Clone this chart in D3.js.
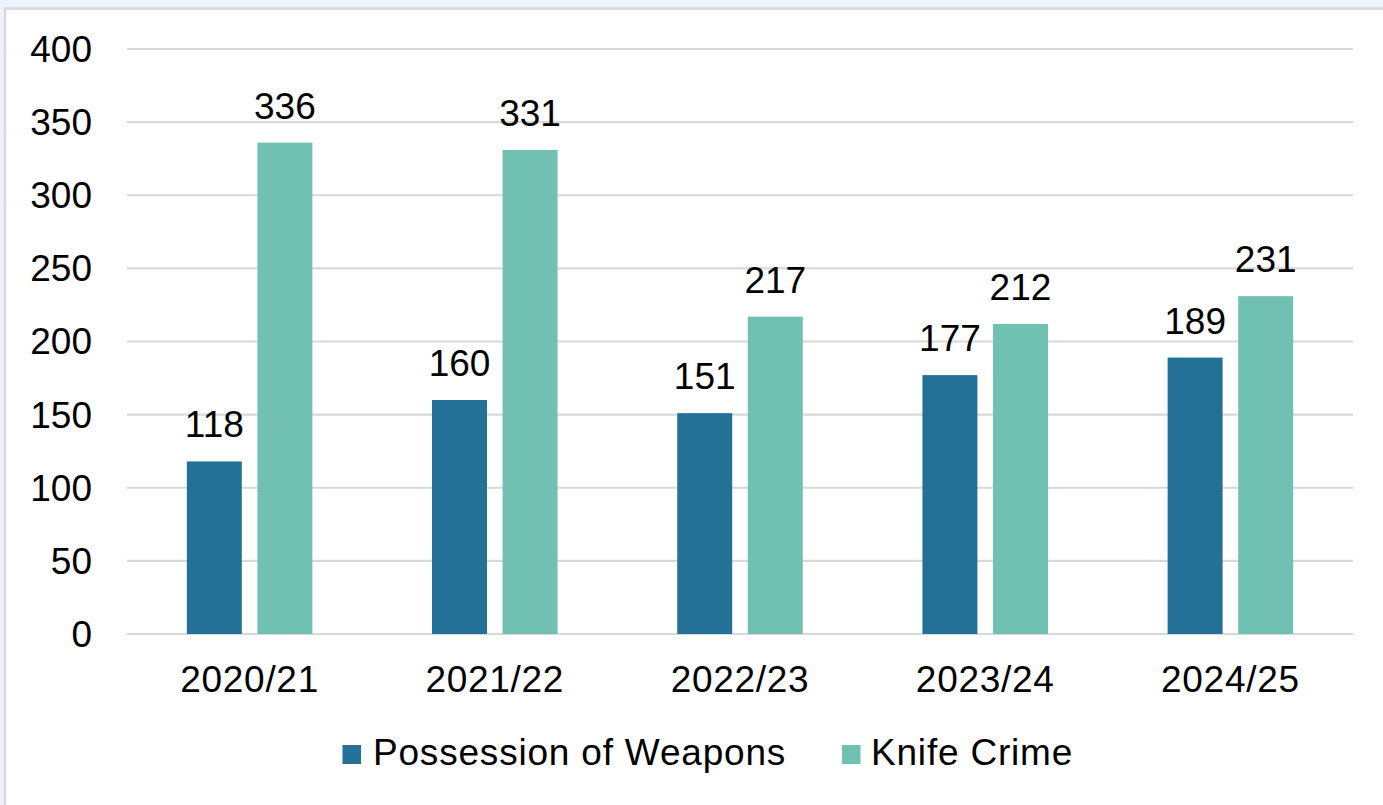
<!DOCTYPE html>
<html>
<head>
<meta charset="utf-8">
<script src="https://cdn.jsdelivr.net/npm/d3@7"></script>
<style>
  html, body { margin: 0; padding: 0; background: #ecf3fc; }
  svg { display: block; }
  text { font-family: "Liberation Sans", Arial, sans-serif; fill: #000; }
</style>
</head>
<body>
<svg id="chart" width="1383" height="805"></svg>
<script>
// Offences recorded per year
const years = ["2020/21", "2021/22", "2022/23", "2023/24", "2024/25"];
const seriesNames = ["Possession of Weapons", "Knife Crime"];
const possessionOfWeapons = [118, 160, 151, 177, 189];
const knifeCrime = [336, 331, 217, 212, 231];
const yTicks = [0, 50, 100, 150, 200, 250, 300, 350, 400];
const colors = ["#237196", "#71c1b3"];

const seriesValues = [possessionOfWeapons, knifeCrime];
const rows = years.map((y, i) => ({
  year: y,
  values: seriesNames.map((s, j) => ({ series: s, value: seriesValues[j][i] }))
}));

const svg = d3.select("#chart");
const W = 1383, H = 805;
const plot = { left: 127, right: 1353, top: 49, bottom: 634 };
const fontSize = 37;

// White chart area with a thin grey frame running off the right and bottom
svg.append("rect")
  .attr("x", 5).attr("y", 8.5)
  .attr("width", W + 20).attr("height", H + 20)
  .attr("fill", "#fff")
  .attr("stroke", "#d9d9d9").attr("stroke-width", 2.5);

const y = d3.scaleLinear().domain([0, 400]).range([plot.bottom, plot.top]);

const p = 0.488;
const x0 = d3.scaleBand().domain(years)
  .range([plot.left, plot.right])
  .paddingInner(p).paddingOuter(p / 2);
const x1 = d3.scaleBand().domain(seriesNames)
  .range([0, x0.bandwidth()])
  .paddingInner(0.221).paddingOuter(0);

// Horizontal gridlines
svg.append("g")
  .selectAll("line")
  .data(yTicks)
  .join("line")
  .attr("x1", plot.left).attr("x2", plot.right)
  .attr("y1", d => y(d)).attr("y2", d => y(d))
  .attr("stroke", "#d9d9d9").attr("stroke-width", 2.2);

// Y tick labels
svg.append("g")
  .selectAll("text")
  .data(yTicks)
  .join("text")
  .attr("x", 92)
  .attr("y", d => y(d) + fontSize * 0.35)
  .attr("text-anchor", "end")
  .attr("font-size", fontSize)
  .text(d => d);

// X category labels
svg.append("g")
  .selectAll("text")
  .data(years)
  .join("text")
  .attr("x", d => x0(d) + x0.bandwidth() / 2)
  .attr("y", 692)
  .attr("text-anchor", "middle")
  .attr("font-size", fontSize)
  .attr("letter-spacing", 0.7)
  .text(d => d);

// Bars and value labels
const groups = svg.append("g")
  .selectAll("g")
  .data(rows)
  .join("g")
  .attr("transform", d => `translate(${x0(d.year)},0)`);

groups.selectAll("rect")
  .data(d => d.values)
  .join("rect")
  .attr("x", d => x1(d.series))
  .attr("width", x1.bandwidth())
  .attr("y", d => y(d.value))
  .attr("height", d => y(0) - y(d.value))
  .attr("fill", (d, i) => colors[i]);

groups.selectAll("text")
  .data(d => d.values)
  .join("text")
  .attr("x", d => x1(d.series) + x1.bandwidth() / 2)
  .attr("y", d => y(d.value) - 24)
  .attr("text-anchor", "middle")
  .attr("font-size", fontSize)
  .text(d => d.value);

// Legend
const legendItems = [
  { name: seriesNames[0], color: colors[0], sx: 342.5, tx: 373 },
  { name: seriesNames[1], color: colors[1], sx: 842, tx: 871 }
];
const legend = svg.append("g");
legend.selectAll("rect")
  .data(legendItems)
  .join("rect")
  .attr("x", d => d.sx).attr("y", 745)
  .attr("width", 18.5).attr("height", 19)
  .attr("fill", d => d.color);
legend.selectAll("text")
  .data(legendItems)
  .join("text")
  .attr("x", d => d.tx).attr("y", 765)
  .attr("font-size", fontSize)
  .attr("letter-spacing", 0.8)
  .text(d => d.name);
</script>
</body>
</html>
